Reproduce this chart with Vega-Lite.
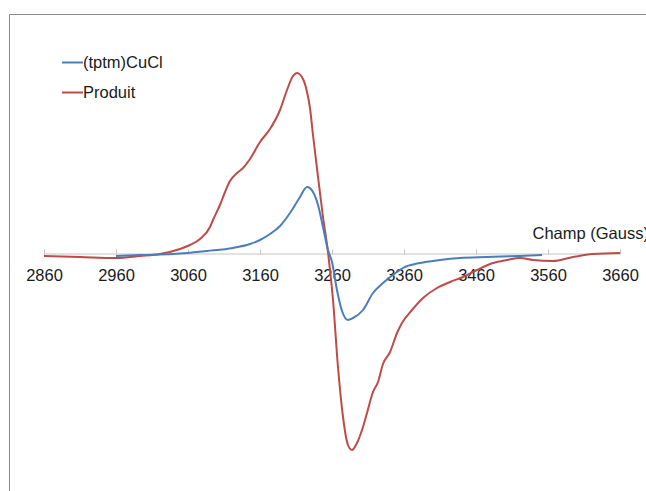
{
  "$schema": "https://vega.github.io/schema/vega-lite/v6.json",
  "width": 637,
  "height": 477,
  "autosize": {"type": "none"},
  "padding": {"left": 9, "top": 14, "right": 0, "bottom": 0},
  "background": "white",
  "config": {
    "view": {"stroke": "#8c8c8c", "strokeWidth": 1},
    "font": "Liberation Sans"
  },
  "data": {
    "values": [
      {"series": "Produit", "G": 2860, "v": -2},
      {"series": "Produit", "G": 2910, "v": -3},
      {"series": "Produit", "G": 2960, "v": -4},
      {"series": "Produit", "G": 2993.3, "v": -2},
      {"series": "Produit", "G": 3021.1, "v": 0},
      {"series": "Produit", "G": 3048.9, "v": 5},
      {"series": "Produit", "G": 3062.8, "v": 9},
      {"series": "Produit", "G": 3076.7, "v": 15},
      {"series": "Produit", "G": 3090.6, "v": 27},
      {"series": "Produit", "G": 3094.7, "v": 34},
      {"series": "Produit", "G": 3104.4, "v": 49},
      {"series": "Produit", "G": 3111.4, "v": 62},
      {"series": "Produit", "G": 3118.3, "v": 73},
      {"series": "Produit", "G": 3128.1, "v": 81},
      {"series": "Produit", "G": 3136.4, "v": 86},
      {"series": "Produit", "G": 3146.1, "v": 95},
      {"series": "Produit", "G": 3160, "v": 112},
      {"series": "Produit", "G": 3173.9, "v": 125},
      {"series": "Produit", "G": 3187.8, "v": 144},
      {"series": "Produit", "G": 3197.5, "v": 164},
      {"series": "Produit", "G": 3205.8, "v": 178},
      {"series": "Produit", "G": 3211.4, "v": 181},
      {"series": "Produit", "G": 3219.7, "v": 175},
      {"series": "Produit", "G": 3225.3, "v": 162},
      {"series": "Produit", "G": 3229.4, "v": 146},
      {"series": "Produit", "G": 3233.6, "v": 119},
      {"series": "Produit", "G": 3240.6, "v": 77},
      {"series": "Produit", "G": 3247.5, "v": 37},
      {"series": "Produit", "G": 3254.4, "v": 2},
      {"series": "Produit", "G": 3261.4, "v": -46},
      {"series": "Produit", "G": 3268.3, "v": -113},
      {"series": "Produit", "G": 3275.3, "v": -163},
      {"series": "Produit", "G": 3282.2, "v": -191},
      {"series": "Produit", "G": 3287.8, "v": -196},
      {"series": "Produit", "G": 3294.7, "v": -189},
      {"series": "Produit", "G": 3301.7, "v": -176},
      {"series": "Produit", "G": 3308.6, "v": -159},
      {"series": "Produit", "G": 3316.9, "v": -138},
      {"series": "Produit", "G": 3323.9, "v": -128},
      {"series": "Produit", "G": 3330.8, "v": -110},
      {"series": "Produit", "G": 3340.6, "v": -98},
      {"series": "Produit", "G": 3350.3, "v": -79},
      {"series": "Produit", "G": 3357.2, "v": -69},
      {"series": "Produit", "G": 3371.1, "v": -56},
      {"series": "Produit", "G": 3386.4, "v": -44},
      {"series": "Produit", "G": 3405.8, "v": -34},
      {"series": "Produit", "G": 3423.9, "v": -28},
      {"series": "Produit", "G": 3441.9, "v": -23},
      {"series": "Produit", "G": 3461.4, "v": -16},
      {"series": "Produit", "G": 3483.6, "v": -9},
      {"series": "Produit", "G": 3503.1, "v": -6},
      {"series": "Produit", "G": 3521.1, "v": -4},
      {"series": "Produit", "G": 3539.2, "v": -6},
      {"series": "Produit", "G": 3566.9, "v": -7},
      {"series": "Produit", "G": 3594.7, "v": -3},
      {"series": "Produit", "G": 3622.5, "v": 0},
      {"series": "Produit", "G": 3660, "v": 1},
      {"series": "(tptm)CuCl", "G": 2960, "v": -2},
      {"series": "(tptm)CuCl", "G": 2993.3, "v": -1},
      {"series": "(tptm)CuCl", "G": 3039.2, "v": 0},
      {"series": "(tptm)CuCl", "G": 3086.4, "v": 3},
      {"series": "(tptm)CuCl", "G": 3122.5, "v": 6},
      {"series": "(tptm)CuCl", "G": 3146.1, "v": 10},
      {"series": "(tptm)CuCl", "G": 3160, "v": 14},
      {"series": "(tptm)CuCl", "G": 3173.9, "v": 20},
      {"series": "(tptm)CuCl", "G": 3187.8, "v": 28},
      {"series": "(tptm)CuCl", "G": 3201.7, "v": 41},
      {"series": "(tptm)CuCl", "G": 3215.6, "v": 57},
      {"series": "(tptm)CuCl", "G": 3225.3, "v": 67},
      {"series": "(tptm)CuCl", "G": 3233.6, "v": 62},
      {"series": "(tptm)CuCl", "G": 3240.6, "v": 49},
      {"series": "(tptm)CuCl", "G": 3247.5, "v": 27},
      {"series": "(tptm)CuCl", "G": 3254.4, "v": 4},
      {"series": "(tptm)CuCl", "G": 3260, "v": -8},
      {"series": "(tptm)CuCl", "G": 3266.9, "v": -36},
      {"series": "(tptm)CuCl", "G": 3273.9, "v": -57},
      {"series": "(tptm)CuCl", "G": 3282.2, "v": -66},
      {"series": "(tptm)CuCl", "G": 3289.2, "v": -64},
      {"series": "(tptm)CuCl", "G": 3303.1, "v": -56},
      {"series": "(tptm)CuCl", "G": 3316.9, "v": -39},
      {"series": "(tptm)CuCl", "G": 3330.8, "v": -29},
      {"series": "(tptm)CuCl", "G": 3350.3, "v": -18},
      {"series": "(tptm)CuCl", "G": 3358.6, "v": -14},
      {"series": "(tptm)CuCl", "G": 3382.2, "v": -9},
      {"series": "(tptm)CuCl", "G": 3410, "v": -6},
      {"series": "(tptm)CuCl", "G": 3437.8, "v": -4},
      {"series": "(tptm)CuCl", "G": 3475.3, "v": -3},
      {"series": "(tptm)CuCl", "G": 3521.1, "v": -2},
      {"series": "(tptm)CuCl", "G": 3551.7, "v": -1}
    ]
  },
  "encoding": {
    "x": {
      "field": "G",
      "type": "quantitative",
      "scale": {"domain": [2811.4, 3696.1], "nice": false, "zero": false},
      "axis": {
        "values": [2860, 2960, 3060, 3160, 3260, 3360, 3460, 3560, 3660],
        "format": "d",
        "domain": false,
        "grid": false,
        "offset": -237,
        "tickSize": -5,
        "tickColor": "#c4c4c4",
        "labelFontSize": 16.5,
        "labelColor": "#1a1a1a",
        "labelPadding": 18,
        "title": "Champ (Gauss)",
        "titleFontSize": 16.5,
        "titleFontWeight": "normal",
        "titleColor": "#1a1a1a",
        "titleX": 523,
        "titleY": -21,
        "titleAlign": "left",
        "titleBaseline": "middle"
      }
    },
    "y": {
      "field": "v",
      "type": "quantitative",
      "scale": {"domain": [-237, 240], "nice": false, "zero": false},
      "axis": null
    }
  },
  "layer": [
    {
      "data": {"values": [{"G": 2860, "G2": 3660, "v": 0}]},
      "mark": {"type": "rule", "color": "#c4c4c4", "strokeWidth": 1},
      "encoding": {
        "x2": {"field": "G2"}
      }
    },
    {
      "mark": {"type": "line", "strokeWidth": 2, "interpolate": "monotone"},
      "encoding": {
        "color": {
          "field": "series",
          "type": "nominal",
          "scale": {"domain": ["(tptm)CuCl", "Produit"], "range": ["#4a7ebb", "#be4b48"]},
          "legend": {
            "orient": "none",
            "legendX": 52,
            "legendY": 37,
            "title": null,
            "symbolType": "stroke",
            "symbolSize": 441,
            "symbolStrokeWidth": 2,
            "labelFontSize": 16.5,
            "labelColor": "#1a1a1a",
            "labelOffset": -1,
            "rowPadding": 10
          }
        }
      }
    }
  ]
}
